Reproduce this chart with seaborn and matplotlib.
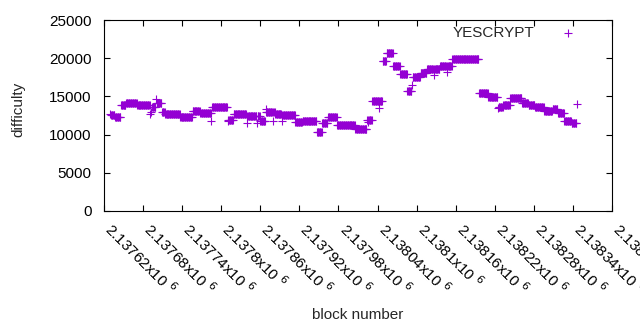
import numpy as np
import pandas as pd
import matplotlib
matplotlib.use("Agg")
import matplotlib.pyplot as plt
import matplotlib.transforms as mtransforms
import seaborn as sns
from matplotlib.ticker import MultipleLocator, FuncFormatter

# YESCRYPT difficulty, read as runs of blocks sitting at the same difficulty.
# offsets are counted from base_block, first and last block of each run
base_block = 2137620
run_first = [9, 11, 17, 26, 34, 51, 71, 72, 74, 80, 81, 89, 94, 117, 136, 148,
             165, 166, 190, 191, 199, 219, 220, 221, 235, 236, 240, 248, 249,
             250, 259, 260, 263, 273, 274, 294, 305, 327, 335, 344, 358, 386,
             404, 405, 406, 412, 422, 423, 428, 434, 444, 455, 466, 473, 474,
             486, 496, 507, 508, 509, 516, 527, 528, 535, 576, 590, 605, 606,
             613, 624, 642, 652, 662, 676, 689, 697, 707, 718, 726]
run_last = [9, 16, 25, 33, 50, 70, 71, 72, 79, 80, 88, 93, 116, 135, 147, 164,
            165, 189, 190, 198, 218, 219, 220, 234, 235, 239, 247, 248, 249,
            258, 259, 262, 272, 273, 293, 304, 326, 334, 343, 357, 385, 403,
            404, 405, 411, 421, 422, 427, 433, 443, 454, 465, 472, 473, 485,
            495, 506, 507, 508, 515, 526, 527, 534, 575, 589, 604, 605, 612,
            623, 641, 651, 661, 675, 688, 696, 706, 717, 725, 726]
run_diff = [12700, 12600, 12300, 13900, 14200, 13900, 12700, 13000, 13600,
            14600, 14100, 13000, 12650, 12300, 13050, 12800, 11800, 13550,
            11800, 11900, 12650, 12400, 11550, 12400, 11550, 12400, 11800,
            13000, 13350, 13000, 11800, 13000, 12650, 11800, 12500, 11700,
            11750, 10400, 11550, 12250, 11300, 10700, 11900, 11700, 11900,
            14450, 13500, 14450, 19650, 20650, 19000, 17900, 15750, 16500,
            17500, 18100, 18650, 17800, 18650, 18550, 19000, 18250, 19000,
            19850, 15500, 14900, 13500, 13550, 13850, 14750, 14200, 13850,
            13550, 13050, 13300, 12800, 11800, 11500, 14000]

blocks = np.concatenate([np.arange(a, b + 1) for a, b in zip(run_first, run_last)])
diffs = np.concatenate([np.full(b - a + 1, d) for a, b, d in zip(run_first, run_last, run_diff)])
df = pd.DataFrame({"block": blocks + base_block, "difficulty": diffs})

sns.set_style("ticks")
plt.rcParams["font.family"] = ["Liberation Sans", "DejaVu Sans"]
fs = 11

fig = plt.figure(figsize=(6.4, 3.3), dpi=100)
ax = fig.add_axes([104 / 640, 119 / 330, 508 / 640, 191 / 330])

sns.scatterplot(data=df, x="block", y="difficulty", marker="+", s=26,
                color="#9400D3", linewidth=0.8, label="YESCRYPT", ax=ax)

ax.set_xlim(2137620, 2138400)
ax.set_ylim(0, 25000)
ax.xaxis.set_major_locator(MultipleLocator(60))
ax.yaxis.set_major_locator(MultipleLocator(5000))
ax.xaxis.set_major_formatter(FuncFormatter(lambda v, p: f"{v / 1e6:g}x10 $^{{6}}$"))

for s in ax.spines.values():
    s.set_visible(True)
    s.set_color("black")
    s.set_linewidth(0.8)
ax.tick_params(direction="in", top=True, right=True, length=4, width=0.8,
               labelsize=fs, colors="black")
ax.tick_params(axis="y", pad=9)
ax.tick_params(axis="x", pad=11)
# gnuplot style: rotated labels hanging from the tick, running down-right
shift = mtransforms.ScaledTranslation(4 / 100, 0, fig.dpi_scale_trans)
for lab in ax.get_xticklabels():
    lab.set_rotation(-45)
    lab.set_ha("left")
    lab.set_va("center")
    lab.set_rotation_mode("anchor")
    lab.set_transform(lab.get_transform() + shift)

ax.set_xlabel("block number", fontsize=fs)
ax.set_ylabel("difficulty", fontsize=fs)
ax.xaxis.set_label_coords(0.5, -0.51)
ax.yaxis.set_label_coords(-0.155, 0.53)

ax.legend(loc="upper right", frameon=False, markerfirst=False, fontsize=fs,
          bbox_to_anchor=(0.965, 1.025), handletextpad=1.2, borderaxespad=0.3)

fig.savefig("out.png", dpi=100)
